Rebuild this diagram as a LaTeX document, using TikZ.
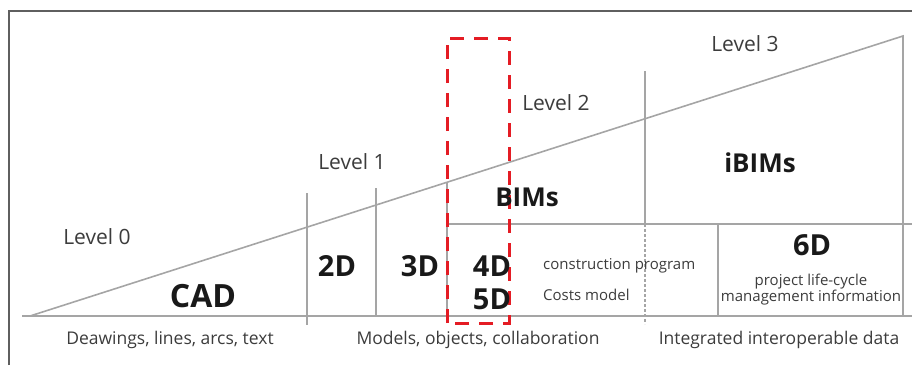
\documentclass[tikz,border=0pt]{standalone}
\usepackage{fontspec}
\setmainfont{Open Sans}
\definecolor{linegray}{RGB}{165,165,165}
\definecolor{framegray}{RGB}{95,95,95}
\definecolor{txtdark}{RGB}{25,25,25}
\definecolor{txtmid}{RGB}{60,60,60}
\definecolor{redbox}{RGB}{228,28,36}
\begin{document}
\begin{tikzpicture}[x=1pt,y=-1pt,
  gline/.style={draw=linegray,line width=1.6pt},
  frameline/.style={draw=framegray,line width=1.6pt},
  lvl/.style={text=txtmid,font=\fontsize{21}{23}\selectfont,inner sep=0pt},
  big/.style={text=txtdark,font=\fontsize{32}{34}\selectfont\bfseries,inner sep=0pt},
  dd/.style={text=txtdark,font=\fontsize{29}{31}\selectfont\bfseries,inner sep=0pt},
  mid/.style={text=txtdark,font=\fontsize{26}{28}\selectfont\bfseries,inner sep=0pt},
  small/.style={text=txtmid,font=\fontsize{15}{17}\selectfont,inner sep=0pt},
  foot/.style={text=txtmid,font=\fontsize{17.5}{19}\selectfont,inner sep=0pt},
  reddash/.style={draw=redbox,line width=3pt,dash pattern=on 14pt off 10pt}]
\useasboundingbox (0,0) rectangle (912,365);
% frame
\draw[frameline] (9,365) -- (9,11) -- (912,11);
% triangle
\coordinate (A) at (30,316);
\coordinate (B) at (903,36);
\coordinate (C) at (903,316);
\draw[gline] (A) -- (B) -- (C);
\draw[gline] (22,316) -- (912,316);
% verticals
\draw[gline] (307,193) -- (307,325);
\draw[gline] (376,188) -- (376,316);
\draw[gline] (447,183) -- (447,316);
\draw[gline] (447,224) -- (912,224);
\draw[gline] (645,71) -- (645,224);
\draw[draw=linegray,line width=1.2pt,dash pattern=on 3pt off 2pt] (645,224) -- (645,324);
\draw[gline] (718,224) -- (718,316);
% red dashed box
\draw[reddash] (447,323) -- (447,38) -- (509,38) -- (509,323) -- cycle;
% labels
\node[lvl] (l0) at (97,237) {Level 0};
\node[lvl] (l1) at (352,162) {Level 1};
\node[lvl] (l2) at (556,103) {Level 2};
\node[lvl] (l3) at (745,44) {Level 3};
\node[big] (cad) at (203,296) {CAD};
\node[dd] (d2) at (337,266) {2D};
\node[dd] (d3) at (420,266) {3D};
\node[dd] (d4) at (492,266) {4D};
\node[dd] (d5) at (492,299) {5D};
\node[mid] (bims) at (527,197) {BIMs};
\node[mid] (ibims) at (760,163) {iBIMs};
\node[dd] (d6) at (812,245) {6D};
\node[small,anchor=west] (cp) at (543,266) {construction program};
\node[small,anchor=west] (cm) at (543,295) {Costs model};
\node[small] (plc) at (811,282) {project life-cycle};
\node[small] (mi) at (811,298) {management information};
\node[foot] (f1) at (170,340) {Deawings, lines, arcs, text};
\node[foot] (f2) at (478,340) {Models, objects, collaboration};
\node[foot] (f3) at (779,340) {Integrated interoperable data};
\end{tikzpicture}
\end{document}
